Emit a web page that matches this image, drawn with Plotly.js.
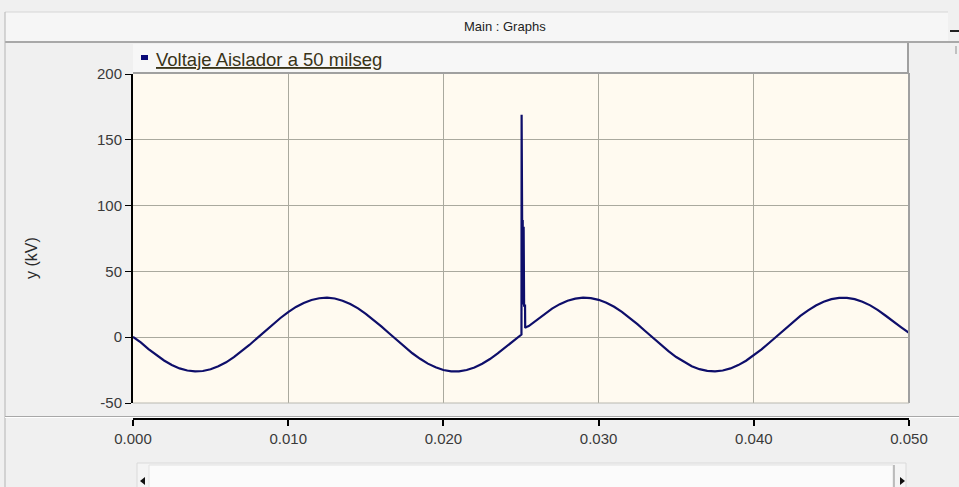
<!DOCTYPE html>
<html>
<head>
<meta charset="utf-8">
<script src="https://cdn.plot.ly/plotly-3.0.1.min.js"></script>
<style>
  html, body { margin: 0; padding: 0; background: #f0f0f0; }
  #chart { width: 959px; height: 487px; }
</style>
</head>
<body>
<div id="chart"></div>
<script>
// ---- data (time in s, voltage in kV) ----
var timeA = [0,0.0005,0.001,0.0015,0.002,0.0025,0.003,0.0035,0.004,0.0045,0.005,0.0055,0.006,0.0065,0.007,0.0075,0.008,0.0085,0.009,0.0095,0.01,0.0105,0.011,0.0115,0.012,0.0125,0.013,0.0135,0.014,0.0145,0.015,0.0155,0.016,0.0165,0.017,0.0175,0.018,0.0185,0.019,0.0195,0.02,0.0205,0.021,0.0215,0.022,0.0225,0.023,0.0235,0.024,0.0245,0.025];
var voltA = [0.3,-4.0,-9.0,-13.7,-17.7,-21.1,-23.7,-25.3,-26.0,-25.7,-24.4,-22.1,-19.1,-15.2,-10.8,-5.9,-0.7,4.5,9.7,14.6,19.1,23.0,26.0,28.3,29.6,30.0,29.4,27.7,25.2,21.9,17.8,13.3,8.2,3.0,-2.3,-7.4,-12.2,-16.4,-20.1,-22.9,-24.9,-25.9,-25.9,-24.9,-23.0,-20.2,-16.6,-12.3,-7.6,-2.5,1.5];
var timeSpike = [0.02503,0.02504,0.02505,0.02506,0.02507,0.02508,0.02509,0.0251,0.02511,0.02512,0.02513,0.02514,0.02515,0.02516,0.02517,0.02518,0.02519,0.0252,0.02526,0.02527,0.0253];
var voltSpike = [2.0,169,92,25,91,26,90,25,89,26,88,25,86,26,84,25,80,24,24,7,7.5];
var timeB = [0.0255,0.026,0.0265,0.027,0.0275,0.028,0.0285,0.029,0.0295,0.03,0.0305,0.031,0.0315,0.032,0.0325,0.033,0.0335,0.034,0.0345,0.035,0.0355,0.036,0.0365,0.037,0.0375,0.038,0.0385,0.039,0.0395,0.04,0.0405,0.041,0.0415,0.042,0.0425,0.043,0.0435,0.044,0.0445,0.045,0.0455,0.046,0.0465,0.047,0.0475,0.048,0.0485,0.049,0.0495,0.05];
var voltB = [8.5,13.0,17.7,21.7,25.1,27.7,29.3,30.0,29.7,28.4,26.2,23.1,19.3,14.8,9.9,4.7,-0.5,-5.7,-10.6,-15.1,-18.9,-22.1,-24.3,-25.6,-26.0,-25.3,-23.7,-21.2,-17.9,-13.8,-9.2,-4.2,1.0,6.3,11.4,16.2,20.4,24.1,26.9,28.9,29.9,29.9,28.9,27.0,24.2,20.6,16.3,11.6,7.5,3.3];
var xTickVals = [0,0.01,0.02,0.03,0.04,0.05];
var xTickText = ['0.000','0.010','0.020','0.030','0.040','0.050'];
var yTickVals = [-50,0,50,100,150,200];
var yTickText = ['-50','0','50','100','150','200'];
var seriesName = 'Voltaje Aislador a 50 milseg';
var panelTitle = 'Main : Graphs';
var yTitle = 'y (kV)';

var t = timeA.concat(timeSpike, timeB);
var v = voltA.concat(voltSpike, voltB);

// ---- geometry helpers (pixel -> paper) ----
var L = 133, R = 909, T = 74, B = 419;
function px(X) { return (X - L) / (R - L); }
function py(Y) { return (B - Y) / (B - T); }
var yDomLow = py(403);

var FONT = 'Liberation Sans, Arial, sans-serif';

var shapes = [
  // title bar
  {type:'rect', xref:'paper', yref:'paper', x0:px(5), x1:px(948), y0:py(42), y1:py(12), fillcolor:'#f6f6f6', line:{width:0}, layer:'below'},
  {type:'line', xref:'paper', yref:'paper', x0:px(5), x1:px(948), y0:py(12), y1:py(12), line:{color:'#d6d6d6', width:1}},
  {type:'line', xref:'paper', yref:'paper', x0:px(5), x1:px(959), y0:py(42), y1:py(42), line:{color:'#a8a8a8', width:2}},
  // left panel border
  {type:'line', xref:'paper', yref:'paper', x0:px(5), x1:px(5), y0:py(12), y1:py(487), line:{color:'#b4b4b4', width:1}},
  // legend bar
  {type:'rect', xref:'paper', yref:'paper', x0:px(133), x1:px(908), y0:py(73), y1:py(44), fillcolor:'#f7f7f7', line:{width:0}, layer:'below'},
  {type:'line', xref:'paper', yref:'paper', x0:px(133), x1:px(909), y0:py(73), y1:py(73), line:{color:'#a0a0a0', width:2}},
  {type:'line', xref:'paper', yref:'paper', x0:px(908), x1:px(908), y0:py(73), y1:py(43), line:{color:'#a0a0a0', width:2}},
  // legend marker
  {type:'rect', xref:'paper', yref:'paper', x0:px(141), x1:px(148), y0:py(60), y1:py(55), fillcolor:'#0a0a78', line:{width:0}},
  // plot right / bottom edges
  {type:'line', xref:'paper', yref:'paper', x0:px(909), x1:px(909), y0:py(403), y1:py(73), line:{color:'#a0a0a0', width:2}},
  {type:'line', xref:'paper', yref:'paper', x0:px(133), x1:px(909), y0:py(403), y1:py(403), line:{color:'#b8b8b0', width:1}},
  // separator between panes
  {type:'line', xref:'paper', yref:'paper', x0:px(5), x1:px(959), y0:py(416.5), y1:py(416.5), line:{color:'#a8a8a8', width:1}},
  {type:'line', xref:'paper', yref:'paper', x0:px(5), x1:px(959), y0:py(417.5), y1:py(417.5), line:{color:'#ffffff', width:1}},
  // minimise mark
  {type:'line', xref:'paper', yref:'paper', x0:px(950), x1:px(959), y0:py(31), y1:py(31), line:{color:'#202020', width:2}},
  {type:'line', xref:'paper', yref:'paper', x0:px(956), x1:px(956), y0:py(46), y1:py(54), line:{color:'#909090', width:1}},
  // scrollbar
  {type:'rect', xref:'paper', yref:'paper', x0:px(137), x1:px(906), y0:py(488), y1:py(463), fillcolor:'#f4f4f4', line:{color:'#dadada', width:1}, layer:'below'},
  {type:'rect', xref:'paper', yref:'paper', x0:px(149), x1:px(893), y0:py(488), y1:py(465), fillcolor:'#fbfbfb', line:{color:'#e2e2e2', width:1}, layer:'below'},
  {type:'line', xref:'paper', yref:'paper', x0:px(894), x1:px(894), y0:py(487), y1:py(465), line:{color:'#8a8a8a', width:1}},
  {type:'path', xref:'paper', yref:'paper', fillcolor:'#101010', line:{width:0},
    path:'M '+px(140)+' '+py(481)+' L '+px(145)+' '+py(477)+' L '+px(145)+' '+py(485)+' Z'},
  {type:'path', xref:'paper', yref:'paper', fillcolor:'#101010', line:{width:0},
    path:'M '+px(905)+' '+py(481)+' L '+px(900)+' '+py(477)+' L '+px(900)+' '+py(485)+' Z'}
];

var annotations = [
  {xref:'paper', yref:'paper', x:px(505), y:py(27), text:panelTitle, showarrow:false,
   xanchor:'center', yanchor:'middle', font:{family:FONT, size:13, color:'#222222'}},
  {xref:'paper', yref:'paper', x:px(154), y:py(59), text:'<u>'+seriesName+'</u>', showarrow:false,
   xanchor:'left', yanchor:'middle', font:{family:FONT, size:18.5, color:'#3a3418'}},
  {xref:'paper', yref:'paper', x:px(31), y:py(258), text:yTitle, showarrow:false, textangle:-90,
   xanchor:'center', yanchor:'middle', font:{family:FONT, size:16, color:'#2a2a2a'}}
];

var trace = {
  x: t, y: v, type: 'scatter', mode: 'lines', name: seriesName,
  line: {color:'#0e0e6a', width:2.2}, showlegend:false, hoverinfo:'skip'
};

var layout = {
  width: 959, height: 487,
  margin: {l:L, r:959-R, t:T, b:487-B, pad:0},
  paper_bgcolor: '#f0f0f0',
  plot_bgcolor: '#fffaf0',
  showlegend: false,
  xaxis: {
    range:[0,0.05], tickvals:xTickVals, ticktext:xTickText,
    showgrid:true, gridcolor:'#aaa99e', gridwidth:1, zeroline:false,
    showline:true, linecolor:'#000000', linewidth:2,
    ticks:'outside', ticklen:6, tickwidth:2, tickcolor:'#000000',
    anchor:'free', position:0,
    tickfont:{family:FONT, size:15, color:'#3a3a3a'}
  },
  yaxis: {
    range:[-50,200], tickvals:yTickVals, ticktext:yTickText, domain:[yDomLow,1],
    showgrid:true, gridcolor:'#aaa99e', gridwidth:1, zeroline:false,
    showline:true, linecolor:'#000000', linewidth:2,
    ticks:'outside', ticklen:6, tickwidth:1, tickcolor:'#000000',
    tickfont:{family:FONT, size:15, color:'#3a3a3a'}
  },
  shapes: shapes,
  annotations: annotations
};

Plotly.newPlot('chart', [trace], layout, {staticPlot:true, displayModeBar:false});
</script>
</body>
</html>
